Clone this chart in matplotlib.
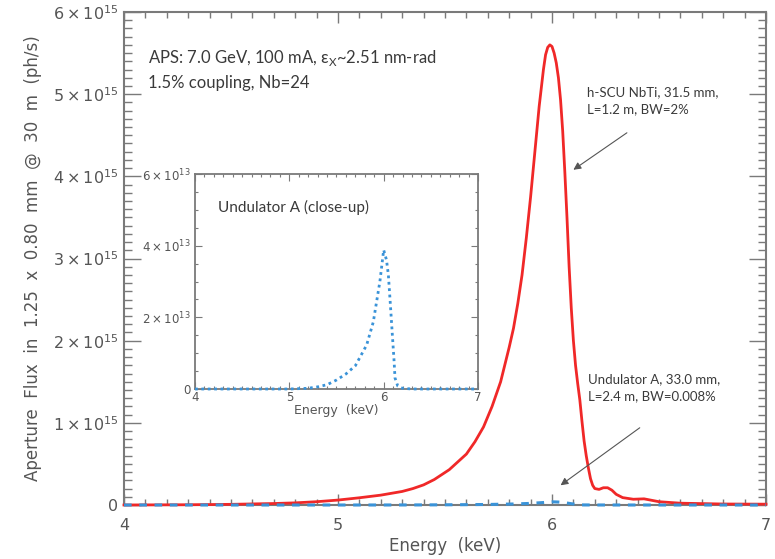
import matplotlib
matplotlib.use("Agg")
import matplotlib.pyplot as plt
from matplotlib.ticker import MultipleLocator

# h-SCU NbTi spectrum (energy in keV, flux in units of 1e15 ph/s)
scu_energy = [4.0, 4.3, 4.5, 4.7, 4.8, 4.9, 5.0, 5.1, 5.2, 5.3, 5.35, 5.4,
              5.45, 5.52, 5.6, 5.64, 5.68, 5.72, 5.76, 5.8, 5.82, 5.84, 5.86,
              5.88, 5.90, 5.92, 5.94, 5.96, 5.97, 5.98, 5.99, 6.00, 6.01, 6.02,
              6.03, 6.04, 6.05, 6.06, 6.07, 6.08, 6.09, 6.10, 6.11, 6.12, 6.13,
              6.14, 6.15, 6.16, 6.17, 6.18, 6.19, 6.20, 6.22, 6.24, 6.26, 6.28,
              6.30, 6.33, 6.38, 6.43, 6.5, 6.6, 6.8, 7.0]
scu_flux = [0.0, 0.003, 0.008, 0.018, 0.026, 0.04, 0.06, 0.088, 0.12, 0.165,
            0.2, 0.245, 0.31, 0.43, 0.62, 0.77, 0.95, 1.2, 1.5, 1.92, 2.15,
            2.45, 2.8, 3.25, 3.75, 4.3, 4.85, 5.3, 5.48, 5.57, 5.6, 5.58, 5.5,
            5.38, 5.2, 4.93, 4.55, 4.05, 3.5, 2.9, 2.4, 2.0, 1.7, 1.48, 1.28,
            1.02, 0.78, 0.6, 0.45, 0.32, 0.24, 0.2, 0.19, 0.21, 0.21, 0.18,
            0.13, 0.09, 0.07, 0.075, 0.04, 0.022, 0.012, 0.01]

# Undulator A spectrum (energy in keV, flux in units of 1e13 ph/s)
und_energy = [4.0, 4.5, 5.0, 5.2, 5.3, 5.4, 5.5, 5.6, 5.7, 5.82, 5.89, 5.96,
              6.0, 6.03, 6.05, 6.07, 6.09, 6.11, 6.12, 6.15, 6.2, 6.3, 6.5,
              7.0]
und_flux = [0.0, 0.0, 0.0, 0.02, 0.06, 0.12, 0.25, 0.42, 0.65, 1.23, 1.87,
            3.0, 3.88, 3.6, 3.18, 2.4, 1.59, 0.8, 0.31, 0.08, 0.02, 0.0, 0.0,
            0.0]

main_yticks = [0, 1, 2, 3, 4, 5, 6]
main_yticklabels = ["0"] + [r"$%d\times10^{15}$" % v for v in main_yticks[1:]]
inset_yticks = [0, 2, 4, 6]
inset_yticklabels = ["0"] + [r"$%d\times10^{13}$" % v for v in inset_yticks[1:]]
xticks = [4, 5, 6, 7]

RED = "#f02828"
BLUE = "#3a93d8"
AXC = "#7a7a7a"
TXT = "#555555"
NOTE = "#3a3a3a"

W, H = 775, 559
fig = plt.figure(figsize=(W / 100, H / 100), dpi=100)
fig.patch.set_facecolor("white")


def px_box(l, t, r, b):
    return [l / W, 1 - b / H, (r - l) / W, (b - t) / H]


ax = fig.add_axes(px_box(124, 12, 766, 505))
scale15 = 1e15
ax.plot(scu_energy, [f * scale15 for f in scu_flux],
        color=RED, lw=2.0, clip_on=False, zorder=3, solid_joinstyle="round")
ax.plot(und_energy, [f * 1e13 for f in und_flux], color=BLUE, lw=2.2,
        ls=(0, (2.5, 2.5)), clip_on=False, zorder=4)
ax.set_xlim(4, 7)
ax.set_ylim(0, 6e15)

for sp in ax.spines.values():
    sp.set_color(AXC)
    sp.set_linewidth(1.5)

ax.set_xticks(xticks)
ax.set_xticklabels([str(x) for x in xticks])
ax.xaxis.set_minor_locator(MultipleLocator(0.1))
ax.set_yticks([v * scale15 for v in main_yticks])
ax.set_yticklabels(main_yticklabels)
ax.yaxis.set_minor_locator(MultipleLocator(0.1e15))
ax.tick_params(axis="both", which="both", direction="in", colors=AXC,
               labelcolor=TXT, top=True, right=True, width=1.0)
ax.tick_params(axis="x", which="major", length=8, labelsize=11.5, pad=9)
ax.tick_params(axis="x", which="minor", length=4)
ax.tick_params(axis="y", which="major", length=12, labelsize=11.5, pad=4)
ax.tick_params(axis="y", which="minor", length=6)

ax.set_xlabel("Energy  (keV)", fontsize=12, color=TXT, labelpad=3)
ax.set_ylabel("Aperture  Flux  in  1.25  x  0.80  mm  @  30  m  (ph/s)",
              fontsize=12, color=TXT, labelpad=8)

note_font = ["Lato", "DejaVu Sans"]
fig.text(148 / W, 1 - 58 / H,
         r"APS: 7.0 GeV, 100 mA, ε$_\mathregular{X}$~2.51 nm-rad",
         family=note_font, fontsize=12, color=NOTE, va="center", ha="left")
fig.text(148 / W, 1 - 83 / H, "1.5% coupling, Nb=24",
         family=note_font, fontsize=12, color=NOTE, va="center", ha="left")

ax.annotate("", xy=(6.10, 4.08e15), xytext=(6.35, 4.53e15),
            arrowprops=dict(arrowstyle="-|>", color="#555555", lw=0.8,
                            mutation_scale=11, shrinkA=0, shrinkB=0))
ax.text(6.165, 5.1e15, "h-SCU NbTi, 31.5 mm,\nL=1.2 m, BW=2%",
        family=note_font, fontsize=9.5, color=NOTE, va="top", ha="left",
        linespacing=1.5)
ax.annotate("", xy=(6.04, 0.24e15), xytext=(6.41, 0.94e15),
            arrowprops=dict(arrowstyle="-|>", color="#555555", lw=0.8,
                            mutation_scale=11, shrinkA=0, shrinkB=0))
ax.text(6.17, 1.6e15, "Undulator A, 33.0 mm,\nL=2.4 m, BW=0.008%",
        family=note_font, fontsize=9.5, color=NOTE, va="top", ha="left",
        linespacing=1.5)

# close-up of the undulator A spectrum
ins = fig.add_axes(px_box(195, 174, 478, 389))
ins.plot(und_energy, [f * 1e13 for f in und_flux], color=BLUE, lw=2.0,
         ls=(0, (1, 1.3)), clip_on=False, zorder=3)
ins.set_xlim(4, 7)
ins.set_ylim(0, 6e13)
for sp in ins.spines.values():
    sp.set_color(AXC)
    sp.set_linewidth(1.3)
ins.set_xticks(xticks)
ins.set_xticklabels([str(x) for x in xticks])
ins.xaxis.set_minor_locator(MultipleLocator(0.1))
ins.set_yticks([v * 1e13 for v in inset_yticks])
ins.set_yticklabels(inset_yticklabels)
ins.yaxis.set_minor_locator(MultipleLocator(0.5e13))
ins.tick_params(axis="both", which="both", direction="in", colors=AXC,
                labelcolor=TXT, top=True, right=True, width=0.8)
ins.tick_params(axis="x", which="major", length=5, labelsize=8.5, pad=1.5)
ins.tick_params(axis="y", which="major", length=5, labelsize=8.5, pad=3)
ins.tick_params(axis="both", which="minor", length=2.5)
ins.set_xlabel("Energy  (keV)", fontsize=9, color=TXT, labelpad=0)
ins.text(0.08, 0.845, "Undulator A (close-up)", transform=ins.transAxes,
         family=note_font, fontsize=11, color=NOTE, va="center", ha="left")

fig.savefig("out.png", dpi=100, facecolor="white")
